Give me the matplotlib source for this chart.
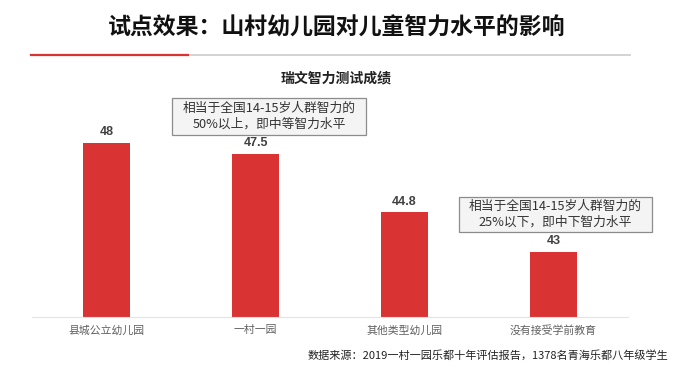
"""Rural kindergarten pilot: Raven test scores"""

import matplotlib
matplotlib.use('Agg')
import matplotlib.pyplot as plt
from matplotlib.lines import Line2D
from matplotlib.patches import Rectangle

plt.rcParams['font.family'] = ['Noto Sans CJK SC', 'DejaVu Sans']

# Chart data
categories = ['县城公立幼儿园', '一村一园', '其他类型幼儿园', '没有接受学前教育']
scores = [48, 47.5, 44.8, 43]
value_labels = ['48', '47.5', '44.8', '43']

title = '试点效果：山村幼儿园对儿童智力水平的影响'
subtitle = '瑞文智力测试成绩'
note_high = '相当于全国14-15岁人群智力的\n50%以上，即中等智力水平'
note_low = '相当于全国14-15岁人群智力的\n25%以下，即中下智力水平'
source = '数据来源：2019一村一园乐都十年评估报告，1378名青海乐都八年级学生'

W, H = 673, 374
fig = plt.figure(figsize=(W / 100, H / 100), dpi=100)
fig.patch.set_facecolor('white')

# Axes placed in pixel units: baseline at y=317, 21.8 px per score point
left, right, base, top = 32, 628, 317, 100
ax = fig.add_axes([left / W, 1 - base / H, (right - left) / W, (base - top) / H])
y_min = 40
ax.set_ylim(y_min, y_min + (base - top) / 21.8)
ax.set_xlim(-0.5, len(categories) - 0.5)

x = list(range(len(categories)))
ax.bar(x, [s - y_min for s in scores], bottom=y_min, width=0.315, color='#d93333')
for xi, s, lab in zip(x, scores, value_labels):
    ax.text(xi, s + 0.22, lab, ha='center', va='bottom', fontsize=9, fontweight='bold',
            color='#404040', family=['Liberation Sans', 'DejaVu Sans'])

ax.set_xticks(x)
ax.set_xticklabels(categories, fontsize=7.8, color='#5f5f5f')
ax.tick_params(axis='x', length=0, pad=6)
ax.set_yticks([])
for side in ['top', 'right', 'left']:
    ax.spines[side].set_visible(False)
ax.spines['bottom'].set_color('#e3e3e3')
ax.spines['bottom'].set_linewidth(0.8)

# Title and underline
fig.text(0.5, 1 - 28 / H, title, ha='center', va='center', fontsize=16.5, fontweight='bold',
         color='#111111')
fig.add_artist(Line2D([188 / W, 630 / W], [1 - 55 / H] * 2, color='#cccccc', linewidth=1.2,
                      transform=fig.transFigure))
fig.add_artist(Line2D([31 / W, 188 / W], [1 - 55 / H] * 2, color='#d93333', linewidth=1.6,
                      transform=fig.transFigure))

fig.text(0.5, 1 - 78 / H, subtitle, ha='center', va='center', fontsize=10, fontweight='bold',
         color='#222222')


def add_note(x0, y0, x1, y1, text):
    """Boxed note in pixel coordinates"""
    fig.add_artist(Rectangle((x0 / W, 1 - y1 / H), (x1 - x0) / W, (y1 - y0) / H,
                             transform=fig.transFigure, facecolor='#f4f4f4', edgecolor='#8c8c8c',
                             linewidth=0.9))
    fig.text((x0 + x1) / 2 / W, 1 - (y0 + y1) / 2 / H, text, ha='center', va='center',
             fontsize=9.2, color='#333333', linespacing=1.3)


add_note(172, 98, 366, 135, note_high)
add_note(459, 197, 652, 232, note_low)

fig.text(668 / W, 1 - 355 / H, source, ha='right', va='center', fontsize=8, color='#222222')

fig.savefig('out.png', dpi=100)
